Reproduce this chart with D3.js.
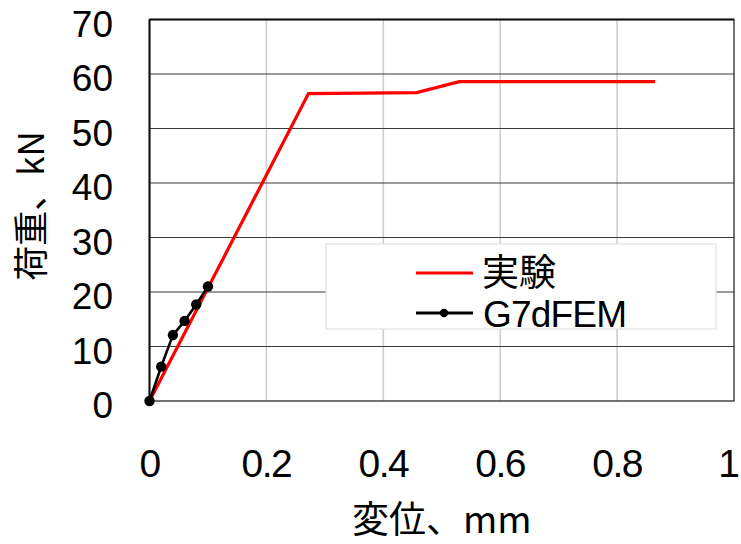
<!DOCTYPE html>
<html>
<head>
<meta charset="utf-8">
<script src="https://cdn.jsdelivr.net/npm/d3@7"></script>
<style>
  html, body { margin: 0; padding: 0; background: #fff; }
  svg { display: block; }
</style>
</head>
<body>
<svg id="chart" width="741" height="544"></svg>
<script>
// ---- data ----
const expX = [0, 0.272, 0.457, 0.53, 0.865];
const expY = [0, 56.4, 56.6, 58.6, 58.6];
const femX = [0, 0.02, 0.04, 0.06, 0.08, 0.10];
const femY = [0, 6.3, 12.1, 14.7, 17.7, 21.0];
const xTicks = [0, 0.2, 0.4, 0.6, 0.8, 1];
const xTickLabels = ["0", "0.2", "0.4", "0.6", "0.8", "1"];
const yTicks = [0, 10, 20, 30, 40, 50, 60, 70];
const seriesNames = ["実験", "G7dFEM"];
const xTitle = "変位、mm";
const yTitle = "荷重、kN";

const W = 741;
const svg = d3.select("#chart");
const L = 149.5, R = 734, T = 19.5, B = 401;
const x = d3.scaleLinear().domain([0, 1]).range([L, R]);
const y = d3.scaleLinear().domain([0, 70]).range([B, T]);

// vertical gridlines (light gray)
svg.append("g").selectAll("line").data(xTicks.slice(1, -1)).join("line")
  .attr("x1", d => x(d)).attr("x2", d => x(d))
  .attr("y1", T).attr("y2", B)
  .attr("stroke", "#cfcfcf").attr("stroke-width", 1.6);

// horizontal gridlines (dark)
svg.append("g").selectAll("line").data(yTicks.slice(1, -1)).join("line")
  .attr("x1", L).attr("x2", R)
  .attr("y1", d => y(d)).attr("y2", d => y(d))
  .attr("stroke", "#3a3a3a").attr("stroke-width", 1.1);

// plot border
svg.append("rect").attr("x", L).attr("y", T).attr("width", R - L).attr("height", B - T)
  .attr("fill", "none").attr("stroke", "#2a2a2a").attr("stroke-width", 1.3);
svg.append("line").attr("x1", L).attr("x2", L).attr("y1", T).attr("y2", B)
  .attr("stroke", "#111").attr("stroke-width", 2);
svg.append("line").attr("x1", L).attr("x2", R).attr("y1", T).attr("y2", T)
  .attr("stroke", "#111").attr("stroke-width", 2);

// legend box
const lg = svg.append("g");
lg.append("rect").attr("x", 326).attr("y", 244).attr("width", 390).attr("height", 85)
  .attr("fill", "#fff").attr("stroke", "#dcdcdc").attr("stroke-width", 1);

// series lines
const line = d3.line().x(d => x(d[0])).y(d => y(d[1]));
const expData = expX.map((v, i) => [v, expY[i]]);
const femData = femX.map((v, i) => [v, femY[i]]);

svg.append("path").datum(expData).attr("d", line)
  .attr("fill", "none").attr("stroke", "#ff0000").attr("stroke-width", 3.2)
  .attr("stroke-linejoin", "miter");
svg.append("path").datum(femData).attr("d", line)
  .attr("fill", "none").attr("stroke", "#000").attr("stroke-width", 2.6);
svg.append("g").selectAll("circle").data(femData).join("circle")
  .attr("cx", d => x(d[0])).attr("cy", d => y(d[1])).attr("r", 5.2).attr("fill", "#000");

// legend entries
lg.append("line").attr("x1", 416).attr("x2", 473).attr("y1", 273).attr("y2", 273)
  .attr("stroke", "#ff0000").attr("stroke-width", 3.2);
lg.append("line").attr("x1", 416).attr("x2", 473).attr("y1", 313).attr("y2", 313)
  .attr("stroke", "#000").attr("stroke-width", 3);
lg.append("circle").attr("cx", 444).attr("cy", 313).attr("r", 4.2).attr("fill", "#000");
lg.append("text").attr("x", 482).attr("y", 286).text(seriesNames[0])
  .attr("font-family", "'Noto Sans CJK JP', sans-serif").attr("font-size", 37).attr("fill", "#000");
lg.append("text").attr("x", 483).attr("y", 327).text(seriesNames[1])
  .attr("font-family", "'Liberation Sans', Arial, sans-serif").attr("font-size", 37)
  .attr("letter-spacing", -0.8).attr("fill", "#000");

// y tick labels
svg.append("g").selectAll("text").data(yTicks).join("text")
  .attr("x", 113).attr("y", d => y(d) + 17)
  .attr("text-anchor", "end")
  .attr("font-family", "'Liberation Sans', Arial, sans-serif").attr("font-size", 37)
  .attr("fill", "#000").text(d => d);

// x tick labels (last one kept inside the window edge)
svg.append("g").selectAll("text").data(xTicks).join("text")
  .attr("x", d => d === 1 ? W - 1 : x(d)).attr("y", 477)
  .attr("text-anchor", d => d === 1 ? "end" : "middle")
  .attr("font-family", "'Liberation Sans', Arial, sans-serif").attr("font-size", 39)
  .attr("letter-spacing", d => d === 1 ? 0 : -1.5)
  .attr("fill", "#000").text((d, i) => xTickLabels[i]);

// axis titles
svg.append("text").attr("x", (L + R) / 2).attr("y", 533)
  .attr("text-anchor", "middle")
  .attr("font-family", "'Noto Sans CJK JP', sans-serif").attr("font-size", 37)
  .attr("fill", "#000").text(xTitle);
svg.append("text").attr("transform", "translate(44,206) rotate(-90)")
  .attr("text-anchor", "middle")
  .attr("font-family", "'Noto Sans CJK JP', sans-serif").attr("font-size", 35)
  .attr("fill", "#000").text(yTitle);
</script>
</body>
</html>
